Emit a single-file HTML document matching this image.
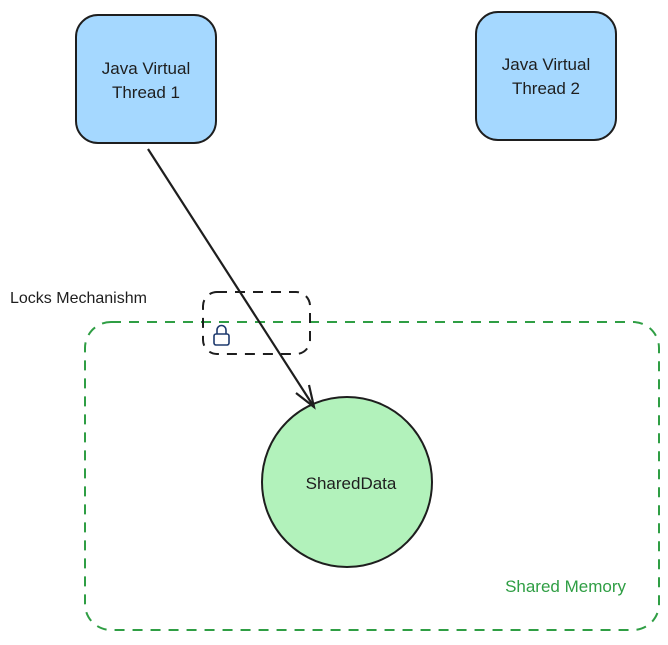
<!DOCTYPE html>
<html><head><style>
body{margin:0;width:668px;height:640px;background:#fff;overflow:hidden}
svg text{font-family:"Comic Sans MS","Liberation Sans",sans-serif}
</style></head><body>
<svg width="668" height="640" viewBox="0 0 668 640" xmlns="http://www.w3.org/2000/svg">
<rect x="76" y="15" width="140" height="128" rx="22" fill="#a5d8ff" stroke="#1e1e1e" stroke-width="2"/>
<text x="146" y="74" font-size="17" text-anchor="middle" fill="#1e1e1e">Java Virtual</text>
<text x="146" y="98" font-size="17" text-anchor="middle" fill="#1e1e1e">Thread 1</text>
<rect x="476" y="12" width="140" height="128" rx="22" fill="#a5d8ff" stroke="#1e1e1e" stroke-width="2"/>
<text x="546" y="70" font-size="17" text-anchor="middle" fill="#1e1e1e">Java Virtual</text>
<text x="546" y="94" font-size="17" text-anchor="middle" fill="#1e1e1e">Thread 2</text>
<rect x="85" y="322" width="574" height="308" rx="26" fill="none" stroke="#2f9e44" stroke-width="2" stroke-dasharray="10 8"/>
<text x="626" y="592" font-size="17" text-anchor="end" fill="#2f9e44">Shared Memory</text>
<rect x="203" y="292" width="107" height="62" rx="14" fill="none" stroke="#1e1e1e" stroke-width="2" stroke-dasharray="10 8"/>
<text x="10" y="303" font-size="16" fill="#1e1e1e">Locks Mechanishm</text>
<rect x="214" y="334" width="15" height="11" rx="2" fill="none" stroke="#1e3a6e" stroke-width="1.6"/>
<path d="M217 334v-4a4.5 4.5 0 0 1 9 0v4" fill="none" stroke="#1e3a6e" stroke-width="1.6"/>
<circle cx="347" cy="482" r="85" fill="#b2f2bb" stroke="#1e1e1e" stroke-width="2"/>
<text x="351" y="489" font-size="17" text-anchor="middle" fill="#1e1e1e">SharedData</text>
<path d="M148 149L314 407" stroke="#1e1e1e" stroke-width="2.2" fill="none"/>
<path d="M296 393L314 407L309 385" stroke="#1e1e1e" stroke-width="2.2" fill="none"/>
</svg>
</body></html>
